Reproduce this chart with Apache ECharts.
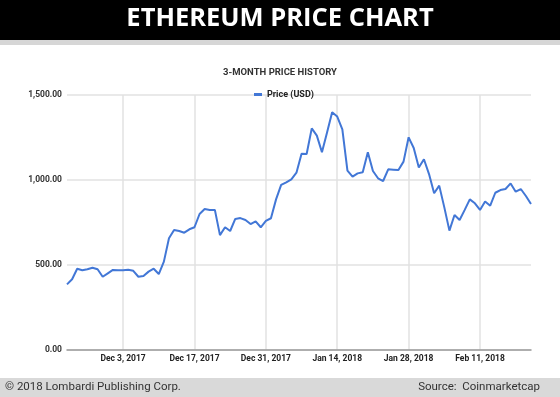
<!DOCTYPE html>
<html>
<head>
<meta charset="utf-8">
<script src="https://cdn.jsdelivr.net/npm/echarts@6/dist/echarts.min.js"></script>
<style>
  html, body { margin: 0; padding: 0; background: #fff; }
  #chart { width: 560px; height: 397px; }
</style>
</head>
<body>
<div id="chart"></div>
<script>
// daily closes, Nov 22 2017 .. Feb 21 2018
const novPrices = [386, 416, 478, 469, 475, 484, 475, 431, 451]
const decPrices = [471, 469, 469, 472, 466, 431, 435, 461, 478, 447, 520, 657, 706, 700, 690, 710,
  722, 800, 829, 824, 824, 676, 722, 700, 771, 776, 765, 741, 757, 722, 759]
const janPrices = [775, 886, 971, 986, 1004, 1043, 1155, 1153, 1304, 1261, 1163, 1280, 1398, 1373, 1298, 1055,
  1020, 1039, 1045, 1163, 1053, 1010, 994, 1063, 1061, 1059, 1108, 1251, 1188, 1074, 1122]
const febPrices = [1035, 922, 967, 839, 702, 794, 765, 824, 886, 863, 824, 873, 849, 925, 941, 947,
  980, 931, 947, 906, 859]

const tickLabels = ['Dec 3, 2017', 'Dec 17, 2017', 'Dec 31, 2017', 'Jan 14, 2018', 'Jan 28, 2018', 'Feb 11, 2018']
const yTicks = [0, 500, 1000, 1500]

const prices = [...novPrices, ...decPrices, ...janPrices, ...febPrices]

// one category per day, starting Nov 22, 2017
const monthNames = ['Jan', 'Feb', 'Mar', 'Apr', 'May', 'Jun', 'Jul', 'Aug', 'Sep', 'Oct', 'Nov', 'Dec']
const days = prices.map((_, i) => {
  const d = new Date(Date.UTC(2017, 10, 22 + i))
  return monthNames[d.getUTCMonth()] + ' ' + d.getUTCDate() + ', ' + d.getUTCFullYear()
})
const isTick = (idx) => tickLabels.includes(days[idx])

const chart = echarts.init(document.getElementById('chart'))
chart.setOption({
  animation: false,
  graphic: [
    { type: 'rect', shape: { x: 0, y: 0, width: 560, height: 40 }, style: { fill: '#000' } },
    { type: 'rect', shape: { x: 0, y: 40, width: 560, height: 5 }, style: { fill: '#d6d6d6' } },
    {
      type: 'text', left: 'center', top: 6,
      style: { text: 'ETHEREUM PRICE CHART', fill: '#fff', font: 'bold 25.5px "Open Sans", sans-serif' }
    },
    {
      type: 'text', left: 'center', top: 68,
      style: { text: '3-MONTH PRICE HISTORY', fill: '#333', font: 'bold 9.5px Roboto, sans-serif' }
    },
    { type: 'rect', shape: { x: 0, y: 378, width: 560, height: 19 }, style: { fill: '#d9d9d9' } },
    {
      type: 'text', left: 5, top: 381,
      style: { text: '\u00a9 2018 Lombardi Publishing Corp.', fill: '#333', font: '11.5px Roboto, sans-serif' }
    },
    {
      type: 'text', right: 20, top: 381,
      style: { text: 'Source:  Coinmarketcap', fill: '#333', font: '11.5px Roboto, sans-serif' }
    }
  ],
  legend: {
    left: 254,
    top: 90,
    padding: 0,
    icon: 'rect',
    itemWidth: 8,
    itemHeight: 3,
    textStyle: { fontSize: 9, fontWeight: 'bold', color: '#222', fontFamily: 'Roboto' }
  },
  grid: { left: 67, right: 29, top: 95, bottom: 47 },
  xAxis: {
    type: 'category',
    data: days,
    boundaryGap: false,
    axisTick: { show: false },
    axisLine: { lineStyle: { color: '#9a9a9a', width: 1.5 } },
    axisLabel: {
      interval: (idx) => isTick(idx),
      margin: 4,
      fontSize: 8.5,
      fontWeight: 'bold',
      fontFamily: 'Roboto',
      color: '#222'
    },
    splitLine: {
      show: true,
      interval: (idx) => isTick(idx),
      lineStyle: { color: '#e2e2e2', width: 1.5 }
    }
  },
  yAxis: {
    type: 'value',
    min: yTicks[0],
    max: yTicks[yTicks.length - 1],
    interval: 500,
    axisLine: { show: false },
    axisTick: { show: false },
    axisLabel: {
      margin: 5,
      fontSize: 8.5,
      fontWeight: 'bold',
      fontFamily: 'Roboto',
      color: '#333',
      formatter: (v) => v.toLocaleString('en-US', { minimumFractionDigits: 2, maximumFractionDigits: 2 })
    },
    splitLine: { lineStyle: { color: '#e2e2e2', width: 1.5 } }
  },
  series: [
    {
      name: 'Price (USD)',
      type: 'line',
      data: prices,
      showSymbol: false,
      symbol: 'none',
      itemStyle: { color: '#4277d6' },
      lineStyle: { color: '#4277d6', width: 2 }
    }
  ]
})
</script>
</body>
</html>
